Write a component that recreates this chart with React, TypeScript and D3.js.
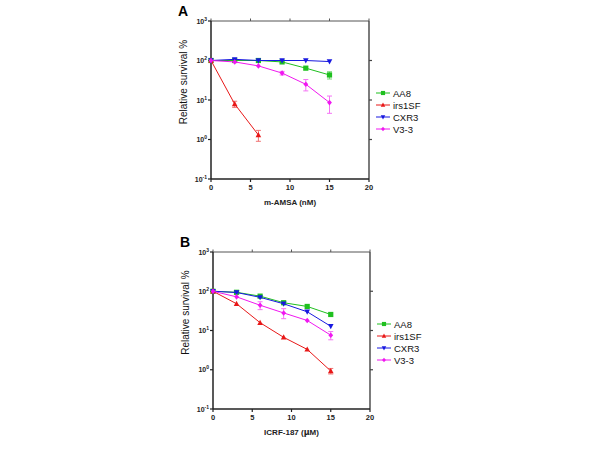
import React from "react";
import * as d3 from "d3";

const doses = [0, 3, 6, 9, 12, 15];
const seriesNames = ["AA8", "irs1SF", "CXR3", "V3-3"];
const seriesColors = ["#1fc01f", "#e81818", "#1818e0", "#f018f0"];
const xTicks = [0, 5, 10, 15, 20];
const yExps = [-1, 0, 1, 2, 3];

// Panel A: m-AMSA
const aAA8 = [100, 100, 100, 92, 64, 43];
const aIrs1SF = [100, 7.9, 1.3];
const aCXR3 = [100, 107, 100, 100, 100, 94];
const aV33 = [100, 92, 73, 48, 25, 8.6];
const aAA8Err = [0, 0, 0, 0, 0, 9];
const aIrs1SFErr = [0, 1.4, 0.4];
const aCXR3Err = [0, 0, 0, 0, 0, 0];
const aV33Err = [0, 0, 0, 5, 8, 4];

// Panel B: ICRF-187
const bAA8 = [100, 94, 75, 51, 41, 25.6];
const bIrs1SF = [100, 48, 15.8, 6.7, 3.3, 0.93];
const bCXR3 = [100, 93, 70, 48, 30, 12.8];
const bV33 = [100, 72, 44, 28, 18, 7.6];
const bAA8Err = [0, 0, 0, 0, 0, 0];
const bIrs1SFErr = [0, 0, 0, 0, 0, 0.15];
const bCXR3Err = [0, 0, 0, 0, 0, 0];
const bV33Err = [0, 0, 10, 8, 0, 1.8];

type Series = { values: number[]; errs: number[] };

const FONT = "'Liberation Sans', Arial, sans-serif";

function Marker({ i, x, y, s = 1 }: { i: number; x: number; y: number; s?: number }) {
  const c = seriesColors[i];
  if (i === 0) return <rect x={x - 2.6 * s} y={y - 2.6 * s} width={5.2 * s} height={5.2 * s} fill={c} />;
  if (i === 1)
    return <path d={`M${x},${y - 3 * s}L${x + 2.8 * s},${y + 2.2 * s}L${x - 2.8 * s},${y + 2.2 * s}Z`} fill={c} />;
  if (i === 2)
    return <path d={`M${x},${y + 3 * s}L${x + 2.8 * s},${y - 2.2 * s}L${x - 2.8 * s},${y - 2.2 * s}Z`} fill={c} />;
  return <path d={`M${x},${y - 2.8 * s}L${x + 2.4 * s},${y}L${x},${y + 2.8 * s}L${x - 2.4 * s},${y}Z`} fill={c} />;
}

function Panel({
  left,
  top,
  w,
  h,
  letter,
  xLabel,
  series,
  legendTop,
}: {
  left: number;
  top: number;
  w: number;
  h: number;
  letter: string;
  xLabel: React.ReactNode;
  series: Series[];
  legendTop: number;
}) {
  const x = d3.scaleLinear().domain([0, 20]).range([left, left + w]);
  const y = d3.scaleLog().domain([0.1, 1000]).range([top + h, top]);
  const line = d3
    .line<[number, number]>()
    .x((d) => x(d[0]))
    .y((d) => y(d[1]));
  const axisColor = "#222";
  return (
    <g fontFamily={FONT}>
      <text x={left - 33} y={top - 5} fontSize={14} fontWeight="bold">
        {letter}
      </text>
      {/* frame */}
      <line x1={left} x2={left + w} y1={top} y2={top} stroke="#555" strokeWidth={1} />
      <line x1={left + w} x2={left + w} y1={top} y2={top + h} stroke="#444" strokeWidth={1.4} />
      <line x1={left} x2={left} y1={top} y2={top + h} stroke={axisColor} strokeWidth={1.5} />
      <line x1={left} x2={left + w} y1={top + h} y2={top + h} stroke={axisColor} strokeWidth={1.5} />
      {xTicks.map((t) => (
        <g key={"x" + t}>
          <line x1={x(t)} x2={x(t)} y1={top + h} y2={top + h + 3} stroke={axisColor} strokeWidth={1.2} />
          <line x1={x(t)} x2={x(t)} y1={top} y2={top - 2.5} stroke="#555" strokeWidth={1} />
          <text x={x(t)} y={top + h + 11} fontSize={7.5} fontWeight="bold" textAnchor="middle" fill="#222">
            {t}
          </text>
        </g>
      ))}
      {yExps.map((e) => {
        const yy = y(Math.pow(10, e));
        return (
          <g key={"y" + e}>
            <line x1={left - 3} x2={left} y1={yy} y2={yy} stroke={axisColor} strokeWidth={1.2} />
            {e > -1 && e < 3 && (
              <line x1={left + w} x2={left + w + 3} y1={yy} y2={yy} stroke="#444" strokeWidth={1.2} />
            )}
            <text x={left - 4} y={yy + 2.5} fontSize={7} fontWeight="bold" textAnchor="end" fill="#222">
              10
              <tspan fontSize={5} dy={-3}>
                {e}
              </tspan>
            </text>
          </g>
        );
      })}
      <text
        transform={`translate(${left - 24},${top + h / 2 - 18}) rotate(-90)`}
        fontSize={10}
        textAnchor="middle"
        fill="#111"
      >
        Relative survival %
      </text>
      <text x={left + w / 2} y={top + h + 26} fontSize={8} fontWeight="bold" textAnchor="middle" fill="#222">
        {xLabel}
      </text>
      {/* data */}
      {series.map((s, i) => {
        const pts: [number, number][] = s.values.map((v, k) => [doses[k], v]);
        return (
          <g key={"s" + i}>
            <path d={line(pts) || ""} fill="none" stroke={seriesColors[i]} strokeWidth={1} />
            {s.errs.map((er, k) =>
              er > 0 ? (
                <g key={"e" + k} stroke={seriesColors[i]} strokeWidth={1} opacity={0.6}>
                  <line x1={x(doses[k])} x2={x(doses[k])} y1={y(s.values[k] + er)} y2={y(s.values[k] - er)} />
                  <line
                    x1={x(doses[k]) - 2.5}
                    x2={x(doses[k]) + 2.5}
                    y1={y(s.values[k] + er)}
                    y2={y(s.values[k] + er)}
                  />
                  <line
                    x1={x(doses[k]) - 2.5}
                    x2={x(doses[k]) + 2.5}
                    y1={y(s.values[k] - er)}
                    y2={y(s.values[k] - er)}
                  />
                </g>
              ) : null
            )}
            {pts.map((p, k) => (
              <Marker key={"m" + k} i={i} x={x(p[0])} y={y(p[1])} />
            ))}
          </g>
        );
      })}
      {/* legend */}
      {seriesNames.map((n, i) => {
        const ly = legendTop + i * 12;
        return (
          <g key={"l" + n}>
            <line x1={left + w + 7} x2={left + w + 21} y1={ly} y2={ly} stroke={seriesColors[i]} strokeWidth={1} />
            <Marker i={i} x={left + w + 14} y={ly} s={0.8} />
            <text x={left + w + 24} y={ly + 3.5} fontSize={9.5} fill="#111">
              {n}
            </text>
          </g>
        );
      })}
    </g>
  );
}

export default function App() {
  const seriesA: Series[] = [
    { values: aAA8, errs: aAA8Err },
    { values: aIrs1SF, errs: aIrs1SFErr },
    { values: aCXR3, errs: aCXR3Err },
    { values: aV33, errs: aV33Err },
  ];
  const seriesB: Series[] = [
    { values: bAA8, errs: bAA8Err },
    { values: bIrs1SF, errs: bIrs1SFErr },
    { values: bCXR3, errs: bCXR3Err },
    { values: bV33, errs: bV33Err },
  ];
  return (
    <svg width={600} height={450} style={{ position: "absolute", left: 0, top: 0, background: "#fff" }}>
      <rect width={600} height={450} fill="#fff" />
      <Panel
        left={211}
        top={21}
        w={158}
        h={158}
        letter="A"
        xLabel="m-AMSA (nM)"
        series={seriesA}
        legendTop={93}
      />
      <Panel
        left={213}
        top={252}
        w={157}
        h={157}
        letter="B"
        xLabel={
          <>
            ICRF-187 (<tspan fontFamily="'DejaVu Sans', sans-serif">μ</tspan>M)
          </>
        }
        series={seriesB}
        legendTop={324}
      />
    </svg>
  );
}
